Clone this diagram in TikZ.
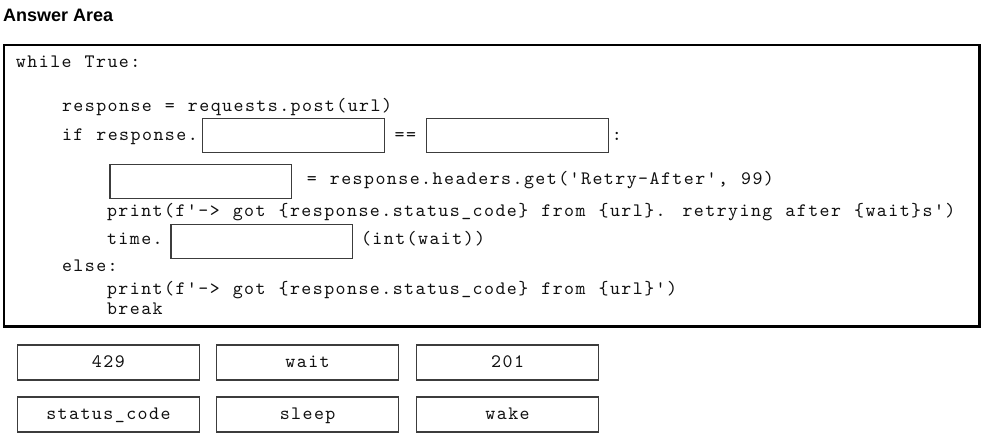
\documentclass[tikz,border=0pt]{standalone}
\usepackage{fontspec}
\newfontfamily\codefont{lmmono10-regular.otf}[Ligatures=TeXOff, LetterSpace=7.6, WordSpace=1.14]
\newfontfamily\headfont{Liberation Sans}
\definecolor{ink}{HTML}{101010}
\definecolor{boxline}{HTML}{3C3C3C}
\tikzset{
  code/.style={inner sep=0pt, outer sep=0pt, anchor=base west, text=ink,
    font=\codefont\fontsize{19}{22}\selectfont},
  slot/.style={draw=boxline, line width=1.2pt, fill=white, inner sep=0pt, outer sep=0pt,
    minimum width=181.5pt, minimum height=34pt, anchor=north west},
  choice/.style={draw=boxline, line width=1.2pt, fill=white, inner sep=0pt, outer sep=0pt,
    minimum width=181.5pt, minimum height=35pt, anchor=center, text=ink,
    text height=13pt, text depth=3pt,
    font=\codefont\fontsize{19}{22}\selectfont},
  frame/.style={draw=black, line width=2.2pt, inner sep=0pt, outer sep=0pt,
    minimum width=975.8pt, minimum height=281.5pt, anchor=north west}
}
\begin{document}
\begin{tikzpicture}[x=1pt, y=-1pt]
\useasboundingbox (0,0) rectangle (985,443);
\fill[white] (0,0) rectangle (985,443);
% heading
\node[inner sep=0pt, anchor=base west, text=black, font=\headfont\bfseries\fontsize{18}{21}\selectfont] (title) at (3,21.7) {Answer Area};
% frame
\node[frame] (frame) at (3.7,45) {};
% code lines
\node[code] (l1) at (16,68) {while True:};
\node[code] (l2) at (62,111.5) {response = requests.post(url)};
\node[code] (l3) at (62,140.5) {if response.};
\node[slot] (s1) at (202.7,118.3) {};
\node[code] (eq) at (394.7,140.5) {==};
\node[slot] (s2) at (426.7,118.3) {};
\node[code] (colon) at (611.8,140.5) {:};
\node[slot] (s3) at (110,164.2) {};
\node[code] (l4) at (306.9,185) {= response.headers.get('Retry-After', 99)};
\node[code] (l5) at (107,216.5) {print(f'-> got \{response.status\_code\} from \{url\}. retrying after \{wait\}s')};
\node[code] (l6) at (107,244.5) {time.};
\node[slot] (s4) at (171,224.3) {};
\node[code] (l6b) at (361,244.5) {(int(wait))};
\node[code] (l7) at (62,271.5) {else:};
\node[code] (l8) at (107,295) {print(f'-> got \{response.status\_code\} from \{url\}')};
\node[code] (l9) at (107,315) {break};
% choices
\node[choice] (c1) at (108.4,362.5) {429};
\node[choice] (c2) at (307.6,362.5) {wait};
\node[choice] (c3) at (507.6,362.5) {201};
\node[choice] (c4) at (108.4,414.5) {status\_code};
\node[choice] (c5) at (307.6,414.5) {sleep};
\node[choice] (c6) at (507.6,414.5) {wake};
\end{tikzpicture}
\end{document}
